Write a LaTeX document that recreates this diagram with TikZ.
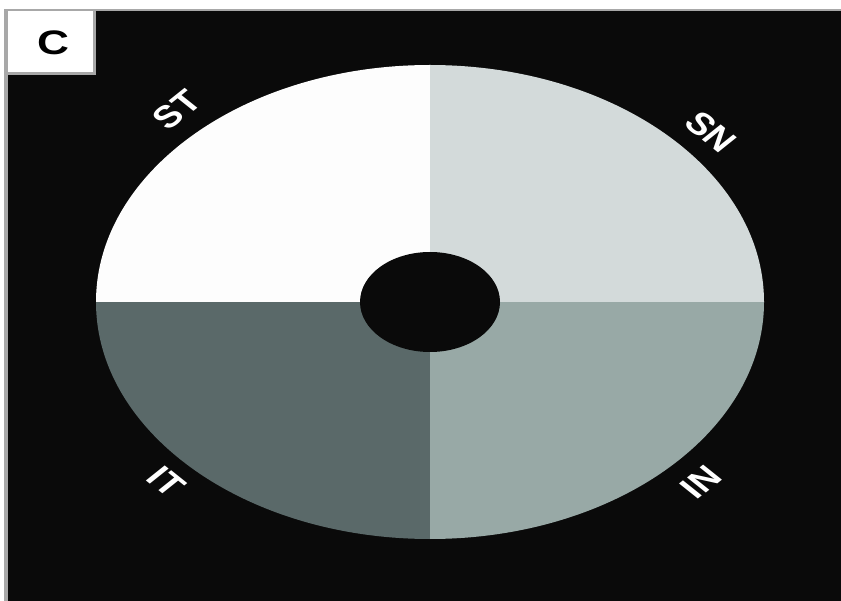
\documentclass[tikz,border=0pt]{standalone}
\usepackage{fontspec}
\setmainfont{Liberation Sans}
\definecolor{bgblack}{HTML}{0A0A0A}
\definecolor{edgegray}{HTML}{A8A8A8}
\definecolor{qst}{HTML}{FDFDFD}
\definecolor{qsn}{HTML}{D3DADA}
\definecolor{qit}{HTML}{5A6969}
\definecolor{qin}{HTML}{98A9A6}
\begin{document}
\begin{tikzpicture}[x=1pt,y=-1pt,
  lab/.style={text=white, font=\fontsize{31}{31}\selectfont\bfseries, inner sep=0pt, xscale=1.25},
  panel/.style={text=black, font=\fontsize{34}{34}\selectfont\bfseries, inner sep=0pt, xscale=1.3}]
\useasboundingbox (0,0) rectangle (841,601);
\fill[white] (0,0) rectangle (841,601);
\fill[edgegray] (4,9) rectangle (841,601);
\fill[bgblack] (8,11) rectangle (841,601);
% panel label box
\fill[edgegray] (8,11) rectangle (96,75);
\fill[white] (8,11) rectangle (93,72);
\node[panel] (plabel) at (53,43) {C};
% ellipse quadrants
\begin{scope}
  \clip (430,302) ellipse [x radius=334, y radius=237];
  \fill[qst] (90,60) rectangle (430,302);
  \fill[qsn] (430,60) rectangle (770,302);
  \fill[qit] (90,302) rectangle (430,545);
  \fill[qin] (430,302) rectangle (770,545);
\end{scope}
\fill[bgblack] (430,302) ellipse [x radius=70, y radius=50];
% labels
\node[lab, rotate=45] (st) at (177,110) {ST};
\node[lab, rotate=-45] (sn) at (711,132) {SN};
\node[lab, rotate=-45] (it) at (166,482) {IT};
\node[lab, rotate=45] (in) at (701,482) {IN};
\end{tikzpicture}
\end{document}
